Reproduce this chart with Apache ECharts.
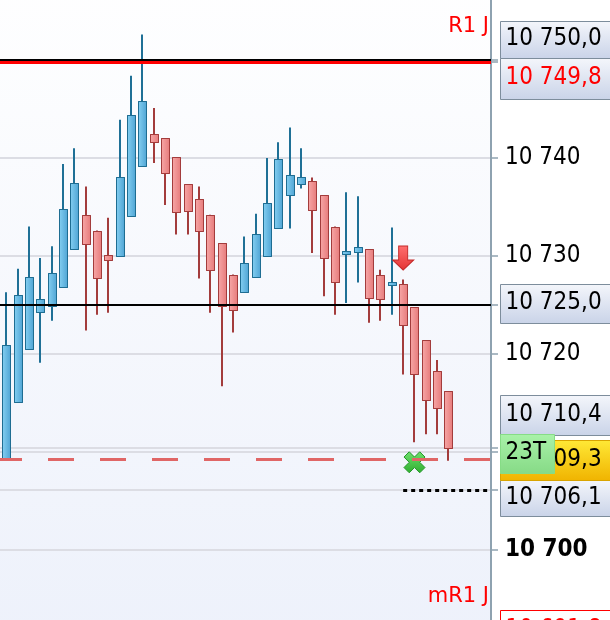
<!DOCTYPE html>
<html><head><meta charset="utf-8">
<script src="https://cdn.jsdelivr.net/npm/echarts@6/dist/echarts.min.js"></script>
<style>html,body{margin:0;padding:0;background:#fff}#c{width:610px;height:620px}</style>
</head><body><div id="c"></div>
<script>
// ---- data ----
const opens  = [10705.5,10709.4,10715.1,10720.6,10724.3,10724.9,10726.8,10730.8,10734.2,10732.6,10730.1,10730.0,10734.1,10739.2,10742.4,10742.0,10740.1,10737.3,10735.8,10734.2,10731.3,10728.1,10726.3,10727.8,10730.0,10732.9,10736.3,10737.4,10737.7,10736.2,10733.0,10730.2,10730.4,10730.7,10728.1,10727.0,10727.1,10724.8,10721.4,10718.3,10716.2];
const closes = [10713.0,10720.9,10726.0,10727.9,10725.6,10728.3,10734.8,10737.5,10731.2,10727.8,10729.6,10738.1,10744.4,10745.8,10741.6,10738.4,10734.5,10734.5,10732.5,10728.6,10724.9,10724.5,10729.3,10732.2,10735.4,10739.9,10738.3,10738.1,10734.7,10729.8,10727.4,10730.5,10730.9,10725.7,10725.7,10727.3,10722.9,10718.0,10715.3,10714.5,10710.4];
const lows   = [10701.8,10709.4,10715.1,10720.6,10719.1,10723.4,10726.8,10730.8,10722.4,10724.0,10724.2,10730.0,10734.1,10739.2,10739.5,10735.2,10732.2,10732.2,10727.7,10724.2,10716.7,10722.2,10726.3,10727.8,10730.0,10732.9,10732.8,10736.9,10730.3,10725.9,10724.0,10725.2,10727.3,10723.2,10723.4,10724.0,10717.9,10711.0,10711.8,10711.8,10709.1];
const highs  = [10713.0,10726.3,10728.7,10733.0,10729.8,10731.0,10739.4,10741.0,10737.1,10732.6,10733.9,10743.9,10748.4,10752.6,10745.1,10742.0,10740.1,10737.3,10737.1,10734.2,10731.3,10728.1,10732.0,10734.3,10740.0,10741.6,10743.1,10741.0,10738.0,10736.2,10733.0,10736.5,10736.1,10730.7,10728.6,10732.9,10727.6,10724.8,10721.4,10719.4,10716.2];

const levelR1     = 10750.0;
const levelR1Alt  = 10749.8;
const levelPivot  = 10725.0;
const levelPrice  = 10709.3;
const levelStop   = 10706.1;
const levelMR1    = 10691.8;
const lastClose   = 10710.4;
const stopStartIndex = 36;
const signalDown  = [[36, 10729.8]];
const signalCross = [[37, 10708.95]];
const timerText   = '23T';
const r1Text      = 'R1 J';
const mr1Text     = 'mR1 J';
const axisTickValues = [10700, 10706.1, 10710, 10710.4, 10720, 10725, 10730, 10740, 10749.8, 10750];

// ---- helpers ----
const FONT = '"DejaVu Sans Condensed", "Liberation Sans", Arial, sans-serif';
const FONT2 = '"DejaVu Sans", "Liberation Sans", Arial, sans-serif';
function fmt(v, d) {
  const s = v.toFixed(d).split('.');
  const intPart = s[0].replace(/\B(?=(\d{3})+(?!\d))/g, ' ');
  return d ? intPart + ',' + s[1] : intPart;
}
const candles = opens.map((o, i) => [i, o, closes[i], lows[i], highs[i]]);
const G = echarts.graphic;
const upFill = () => new G.LinearGradient(0, 0, 1, 0, [{offset: 0, color: '#85d0f2'}, {offset: 1, color: '#4ea3d3'}]);
const dnFill = () => new G.LinearGradient(0, 0, 1, 0, [{offset: 0, color: '#f7a8a8'}, {offset: 1, color: '#e67a7a'}]);

const chart = echarts.init(document.getElementById('c'), null, {renderer: 'canvas'});

chart.setOption({
  animation: false,
  backgroundColor: '#ffffff',
  grid: {
    left: 0, right: 119, top: -38, bottom: -28, show: true, borderWidth: 0,
    containLabel: false, outerBoundsMode: 'none',
    backgroundColor: new G.LinearGradient(0, 0, 0, 1, [{offset: 0, color: '#ffffff'}, {offset: 1, color: '#edf1fb'}])
  },
  xAxis: { type: 'value', min: 0.4265, max: 43.75, show: false },
  yAxis: {
    type: 'value', position: 'right', min: 10690, max: 10760, interval: 10,
    axisLine: { show: true, lineStyle: { color: '#8ea2b0', width: 2 } },
    axisTick: { show: true, length: 7, customValues: axisTickValues, lineStyle: { color: '#8ea2b0', width: 1.5 } },
    splitLine: { show: true, lineStyle: { color: '#dcdde4', width: 2 } },
    axisLabel: {
      margin: 14, color: '#000', fontSize: 24, fontFamily: FONT,
      formatter: v => v % 100 === 0 ? '{b|' + fmt(v, 0) + '}' : fmt(v, 0),
      rich: { b: { fontWeight: 'bold', fontSize: 24, fontFamily: FONT, color: '#000' } }
    }
  },
  series: [
    {
      type: 'custom', z: 2, clip: true,
      data: candles,
      encode: { x: 0, y: [1, 2, 3, 4] },
      renderItem: function (params, api) {
        const i = api.value(0), o = api.value(1), c = api.value(2), l = api.value(3), h = api.value(4);
        const pO = api.coord([i, o]), pC = api.coord([i, c]), pL = api.coord([i, l]), pH = api.coord([i, h]);
        const up = c >= o;
        const cx = pO[0];
        const wx = Math.round(cx);
        const top = Math.min(pO[1], pC[1]), bot = Math.max(pO[1], pC[1]);
        const bx = Math.round(cx - 4) + 0.5;
        return {
          type: 'group',
          children: [
            { type: 'line', shape: { x1: wx, y1: pH[1], x2: wx, y2: pL[1] },
              style: { stroke: up ? '#1f7096' : '#a33c3c', lineWidth: 2 } },
            { type: 'rect', shape: { x: bx, y: Math.round(top) + 0.5, width: 8, height: Math.max(Math.round(bot - top), 1) },
              style: { fill: up ? upFill() : dnFill(), stroke: up ? '#1e6d92' : '#a33c3c', lineWidth: 1 } }
          ]
        };
      }
    },
    {
      type: 'line', z: 3, data: [], silent: true,
      markLine: {
        silent: true, symbol: ['none', 'none'], label: { show: false }, animation: false,
        data: [
          { yAxis: levelMR1, lineStyle: { color: '#ff0000', width: 3, type: 'solid' } },
          { yAxis: levelR1Alt, lineStyle: { color: '#ff0000', width: 3, type: 'solid' } },
          { yAxis: levelR1, lineStyle: { color: '#000000', width: 2, type: 'solid' } },
          { yAxis: levelPivot, lineStyle: { color: '#000000', width: 2, type: 'solid' } },
          { yAxis: levelPrice, lineStyle: { color: '#e06666', width: 3, type: [26, 26], dashOffset: 4 } },
          [ { coord: [stopStartIndex, levelStop], lineStyle: { color: '#000000', width: 3, type: [4, 4] } },
            { coord: [43.75, levelStop] } ]
        ]
      }
    },
    {
      type: 'scatter', z: 4, silent: true, data: signalDown,
      symbol: 'path://M6 0 L15 0 L15 14 L21 14 L10.5 24 L0 14 L6 14 Z', symbolSize: [21, 24],
      itemStyle: {
        color: new G.LinearGradient(0, 0, 0, 1, [{offset: 0, color: '#ff7070'}, {offset: 1, color: '#e43434'}]),
        borderColor: '#c42a2a', borderWidth: 1, opacity: 1
      }
    },
    {
      type: 'scatter', z: 4, silent: true, data: signalCross,
      symbol: 'path://M5 0 L10 5 L15 0 L20 5 L15 10 L20 15 L15 20 L10 15 L5 20 L0 15 L5 10 L0 5 Z', symbolSize: [21, 21],
      itemStyle: {
        color: new G.LinearGradient(0, 0, 0, 1, [{offset: 0, color: '#6ee06e'}, {offset: 1, color: '#2fae2f'}]),
        borderColor: '#24962a', borderWidth: 1, opacity: 1
      }
    }
  ]
});

// ---- price boxes on the right axis, placed from the axis scale ----
const yPx = v => chart.convertToPixel({gridIndex: 0}, [1, v])[1];
const grayFill = () => new G.LinearGradient(0, 0, 0, 1, [{offset: 0, color: '#f4f6fb'}, {offset: 1, color: '#c9d3e8'}]);
let zc = 100;
function box(top, h, text, color, fill, stroke, x, w) {
  x = x === undefined ? 500.5 : x; w = w === undefined ? 120 : w;
  const t = Math.round(top) + 0.5;
  const zr = zc; zc += 2;
  return [
    { type: 'rect', z: zr, shape: { x: x, y: t, width: w, height: h }, style: { fill: fill, stroke: stroke, lineWidth: 1 } },
    { type: 'text', z: zr + 1, style: { text: text, x: x + 5, y: t + h / 2 - 1, verticalAlign: 'middle', align: 'left',
        font: '24px ' + FONT, fill: color } }
  ];
}
const yR1 = yPx(levelR1), yPiv = yPx(levelPivot), yLast = yPx(lastClose), yPr = yPx(levelPrice), ySt = yPx(levelStop), yM = yPx(levelMR1);
const els = [].concat(
  box(yR1 - 39.5, 37, fmt(levelR1, 1), '#000000', grayFill(), '#7d8d9c'),
  box(yR1 - 2.5, 41, fmt(levelR1Alt, 1), '#ff0000', grayFill(), '#7d8d9c'),
  box(yPiv - 21, 39, fmt(levelPivot, 1), '#000000', grayFill(), '#7d8d9c'),
  box(yLast - 53, 40, fmt(lastClose, 1), '#000000', grayFill(), '#7d8d9c'),
  box(ySt - 10, 36, fmt(levelStop, 1), '#000000', grayFill(), '#7d8d9c'),
  box(yPr - 18.5, 40, fmt(levelPrice, 1), '#000000',
      new G.LinearGradient(0, 0, 0, 1, [{offset: 0, color: '#ffe936'}, {offset: 1, color: '#f0b300'}]), '#d9a400'),
  box(yPr - 24.5, 39, timerText, '#000000',
      new G.LinearGradient(0, 0, 0, 1, [{offset: 0, color: '#a9f2a9'}, {offset: 1, color: '#86da86'}]), '#86dc86', 500.5, 54),
  box(yM - 20, 40, fmt(levelMR1, 1), '#ff0000', '#ffffff', '#ff0000'),
  [
    { type: 'text', z: 200, style: { text: r1Text, x: 489, y: yR1 - 33, align: 'right', verticalAlign: 'middle',
        font: '21px ' + FONT2, fill: '#ff0000' } },
    { type: 'text', z: 200, style: { text: mr1Text, x: 489, y: yM - 34, align: 'right', verticalAlign: 'middle',
        font: '21px ' + FONT2, fill: '#ff0000' } }
  ]
);
chart.setOption({ graphic: els });
</script></body></html>
